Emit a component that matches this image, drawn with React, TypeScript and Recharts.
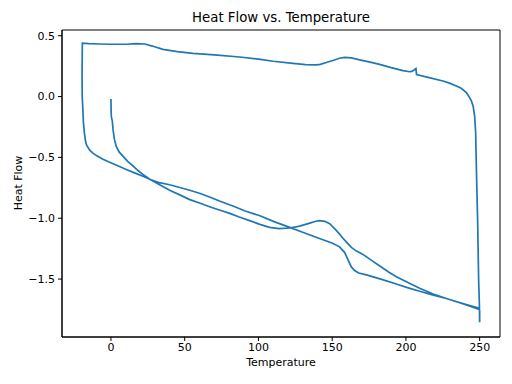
import { LineChart, Line, XAxis, YAxis, ReferenceArea } from "recharts"

// first heating run, starts at 0 and ends with the hold at 250
const firstHeatT = [0, 0.1, 0.3, 0.9, 1.4, 2.3, 3.6, 5.5, 8.1, 11.5, 14.9, 18.5, 21.7, 26.3, 32, 39.8, 46, 53.4, 60, 66.9, 74, 82.7, 91, 101, 111, 121.2, 130, 140, 150.3, 155, 158.4, 160.7, 163, 165.2, 168, 173.2, 183, 193.5, 201, 209.3, 218, 227.4, 238, 249.6, 250, 250]
const firstHeatQ = [-0.02, -0.12, -0.17, -0.2, -0.27, -0.35, -0.41, -0.455, -0.49, -0.535, -0.57, -0.61, -0.64, -0.68, -0.705, -0.725, -0.745, -0.77, -0.795, -0.825, -0.86, -0.9, -0.94, -0.98, -1.03, -1.075, -1.115, -1.16, -1.205, -1.235, -1.28, -1.34, -1.4, -1.43, -1.45, -1.465, -1.5, -1.54, -1.57, -1.6, -1.63, -1.66, -1.7, -1.74, -1.76, -1.855]

// cooling run back to -20
const coolT = [249.8, 249.3, 248.6, 247.8, 247.3, 246.6, 245.6, 244.4, 242.5, 241, 237.5, 234.2, 230, 225.1, 215, 207.2, 206.8, 205.5, 204, 202.5, 198, 190, 182.2, 175, 168.6, 163, 158.5, 155, 151, 146, 142, 139.3, 132, 123.4, 110, 101.4, 87.3, 70, 55.6, 45, 35.3, 28, 23, 17, 10.4, 0, -7.7, -15, -19.4, -19.6, -19.5, -19, -18.7, -18, -17.2]
const coolQ = [-1.7, -1.5, -1.0, -0.6, -0.3, -0.16, -0.08, -0.036, 0.005, 0.033, 0.068, 0.087, 0.108, 0.128, 0.158, 0.18, 0.23, 0.218, 0.207, 0.204, 0.213, 0.238, 0.265, 0.285, 0.302, 0.318, 0.322, 0.315, 0.298, 0.28, 0.265, 0.26, 0.262, 0.272, 0.29, 0.306, 0.325, 0.342, 0.355, 0.37, 0.388, 0.415, 0.432, 0.435, 0.43, 0.43, 0.432, 0.435, 0.438, 0.2, 0.005, -0.12, -0.21, -0.3, -0.37]

// second heating run
const secondHeatT = [-16.5, -14.4, -12.2, -9.9, -5.4, -0.9, 5, 10.4, 16, 21.7, 26.3, 33, 39.8, 47, 53, 60, 66.9, 73, 80.5, 87, 94, 101, 107.6, 114, 121.2, 128, 134.8, 139, 141.5, 145, 148.3, 152, 155, 157, 160, 163, 166.5, 170.6, 176, 182, 188, 193.5, 200, 209.3, 218, 227.4, 238, 249.8]
const secondHeatQ = [-0.4, -0.44, -0.465, -0.485, -0.515, -0.54, -0.57, -0.6, -0.627, -0.655, -0.68, -0.725, -0.77, -0.81, -0.845, -0.875, -0.905, -0.93, -0.96, -0.99, -1.02, -1.05, -1.075, -1.085, -1.08, -1.065, -1.04, -1.025, -1.02, -1.025, -1.045, -1.09, -1.13, -1.16, -1.2, -1.24, -1.27, -1.295, -1.34, -1.39, -1.44, -1.48, -1.52, -1.575, -1.62, -1.66, -1.7, -1.75]

const xTicks = [0, 50, 100, 150, 200, 250]
const yTicks = [0.5, 0, -0.5, -1, -1.5]

const temperature = [...firstHeatT, ...coolT, ...secondHeatT]
const heatFlow = [...firstHeatQ, ...coolQ, ...secondHeatQ]
const data = temperature.map((t, i) => ({ t, q: heatFlow[i] }))

const X_DOMAIN: [number, number] = [-33.2, 263.8]
const Y_DOMAIN: [number, number] = [-1.976, 0.547]
const font = "'DejaVu Sans', sans-serif"

const fmtY = (v: number) => v.toFixed(1).replace("-", "\u2212")

export default function App() {
  return (
    <div style={{ position: "absolute", left: 0, top: 0, width: 512, height: 384, background: "#fff", fontFamily: font }}>
      <div style={{ position: "absolute", left: 62, width: 438, top: 10, textAlign: "center", fontSize: 13.3, color: "#000" }}>
        Heat Flow vs. Temperature
      </div>
      <LineChart width={512} height={384} data={data} margin={{ top: 30, right: 12, bottom: 17, left: 10 }}>
        <XAxis
          dataKey="t"
          type="number"
          domain={X_DOMAIN}
          ticks={xTicks}
          allowDataOverflow
          height={30}
          tickSize={4}
          tickMargin={2}
          stroke="#000"
          tick={{ fill: "#000", fontSize: 11, fontFamily: font }}
        />
        <YAxis
          dataKey="q"
          type="number"
          domain={Y_DOMAIN}
          ticks={yTicks}
          allowDataOverflow
          width={52}
          tickSize={4}
          tickMargin={3}
          tickFormatter={fmtY}
          stroke="#000"
          tick={{ fill: "#000", fontSize: 11, fontFamily: font }}
        />
        <ReferenceArea x1={X_DOMAIN[0]} x2={X_DOMAIN[1]} y1={Y_DOMAIN[0]} y2={Y_DOMAIN[1]} fill="none" stroke="#000" strokeWidth={1} />
        <Line
          type="linear"
          dataKey="q"
          stroke="#1f77b4"
          strokeWidth={1.7}
          dot={false}
          isAnimationActive={false}
        />
      </LineChart>
      <div style={{ position: "absolute", left: 62, width: 438, top: 356, textAlign: "center", fontSize: 11, color: "#000" }}>
        Temperature
      </div>
      <div
        style={{
          position: "absolute",
          left: 18,
          top: 183,
          transform: "translate(-50%, -50%) rotate(-90deg)",
          fontSize: 11,
          color: "#000",
          whiteSpace: "nowrap",
        }}
      >
        Heat Flow
      </div>
    </div>
  )
}
